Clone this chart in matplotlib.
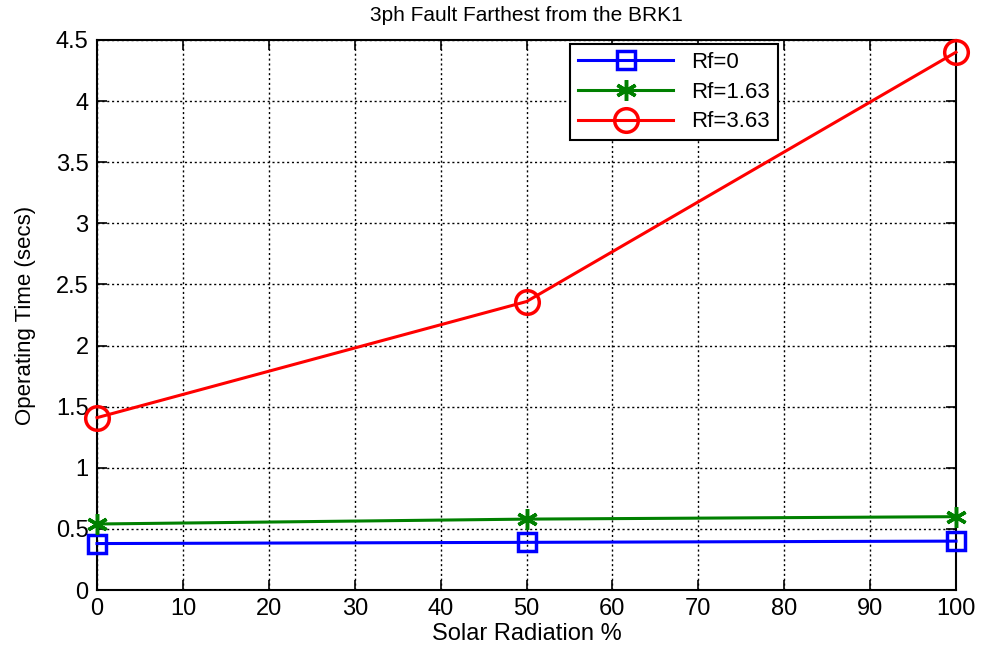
import matplotlib.pyplot as plt

solar = [0, 50, 100]
rf0 = [0.38, 0.39, 0.40]
rf163 = [0.54, 0.58, 0.60]
rf363 = [1.41, 2.36, 4.40]

plt.rcParams['font.family'] = ['Liberation Sans', 'DejaVu Sans']

fig = plt.figure(figsize=(9.81, 6.49), dpi=100)
ax = fig.add_axes([0.0989, 0.0909, 0.8756, 0.8475])

ax.plot(solar, rf0, 'bs-', lw=2.2, ms=13, mfc='none', mew=2.5, label='Rf=0', clip_on=False, zorder=3)
ax.plot(solar, rf163, '-', color=(0, 0.5, 0), marker=(6, 2, 0), lw=2.2, ms=15, mew=2.5,
        label='Rf=1.63', clip_on=False, zorder=3)
ax.plot(solar, rf363, 'ro-', lw=2.2, ms=17, mfc='none', mew=2.5, label='Rf=3.63', clip_on=False, zorder=3)

ax.set_xlim(0, 100)
ax.set_ylim(0, 4.5)
ax.set_xticks(range(0, 101, 10))
ax.set_yticks([0, 0.5, 1, 1.5, 2, 2.5, 3, 3.5, 4, 4.5])
ax.set_yticklabels(['0', '0.5', '1', '1.5', '2', '2.5', '3', '3.5', '4', '4.5'])
ax.grid(True, color='black', linestyle=(0, (1.5, 2)), linewidth=1)
ax.tick_params(direction='in', top=True, right=True, labelsize=17, length=7, width=1.2, pad=6)
for s in ax.spines.values():
    s.set_linewidth(1.5)

ax.set_title('3ph Fault Farthest from the BRK1', fontsize=15, pad=14)
ax.set_xlabel('Solar Radiation %', fontsize=17, labelpad=2)
ax.set_ylabel('Operating Time (secs)', fontsize=16, labelpad=14)

leg = ax.legend(loc='upper right', bbox_to_anchor=(0.795, 0.997), fontsize=16,
                fancybox=False, edgecolor='black', framealpha=1, handlelength=4.3,
                borderpad=0.35, labelspacing=0.4, handletextpad=0.8, borderaxespad=0.1)
leg.get_frame().set_linewidth(1.5)

fig.savefig('out.png', dpi=100)
